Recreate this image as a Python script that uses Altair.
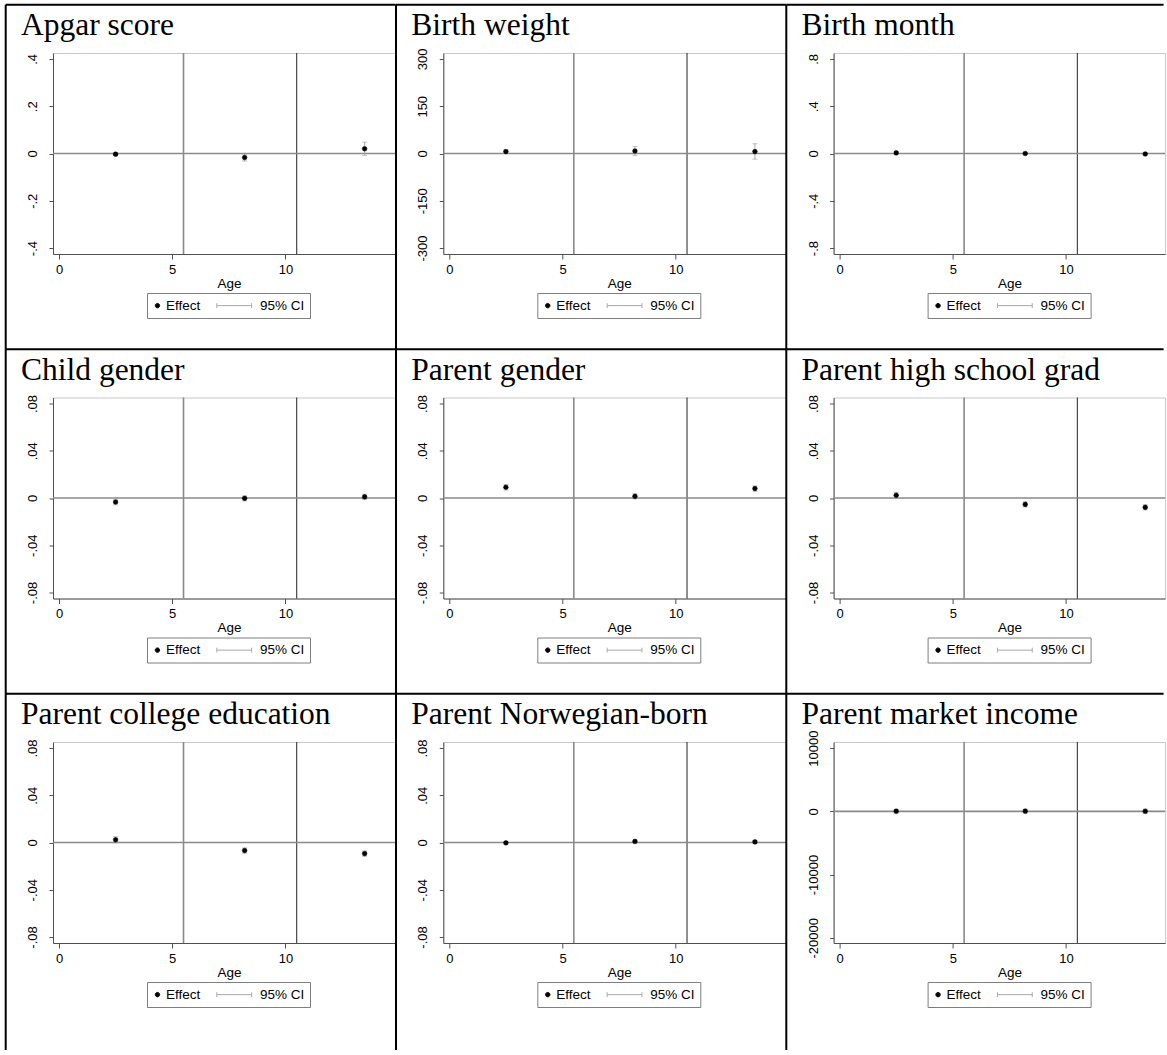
import altair as alt
import pandas as pd

# ---------------- data ----------------
ages = [2.5, 8.2, 13.5]
titles = ["Apgar score", "Birth weight", "Birth month",
          "Child gender", "Parent gender", "Parent high school grad",
          "Parent college education", "Parent Norwegian-born", "Parent market income"]
effects = [
    [-0.003, -0.017, 0.020],
    [6, 8, 6],
    [0.005, 0.0, -0.004],
    [-0.0034, -0.0003, 0.0010],
    [0.0091, 0.0014, 0.0080],
    [0.0023, -0.0054, -0.0079],
    [0.0023, -0.0068, -0.0094],
    [-0.0003, 0.0009, 0.0005],
    [30, 40, 20],
]
ci_low = [
    [-0.008, -0.032, -0.008],
    [1, -6, -18],
    [-0.006, -0.009, -0.013],
    [-0.0058, -0.0024, -0.0012],
    [0.0068, -0.0008, 0.0058],
    [-0.0002, -0.0076, -0.0101],
    [-0.0003, -0.0090, -0.0116],
    [-0.0013, -0.0001, -0.0005],
    [-250, -260, -330],
]
ci_high = [
    [0.002, -0.003, 0.048],
    [11, 22, 31],
    [0.016, 0.009, 0.005],
    [-0.0010, 0.0018, 0.0032],
    [0.0114, 0.0036, 0.0102],
    [0.0048, -0.0032, -0.0057],
    [0.0049, -0.0046, -0.0072],
    [0.0007, 0.0019, 0.0015],
    [310, 340, 370],
]
y_ticks = [
    [-0.4, -0.2, 0, 0.2, 0.4],
    [-300, -150, 0, 150, 300],
    [-0.8, -0.4, 0, 0.4, 0.8],
    [-0.08, -0.04, 0, 0.04, 0.08],
    [-0.08, -0.04, 0, 0.04, 0.08],
    [-0.08, -0.04, 0, 0.04, 0.08],
    [-0.08, -0.04, 0, 0.04, 0.08],
    [-0.08, -0.04, 0, 0.04, 0.08],
    [-20000, -10000, 0, 10000],
]
y_domains = [
    [-0.425, 0.425],
    [-319, 319],
    [-0.85, 0.85],
    [-0.0851, 0.0851],
    [-0.0851, 0.0851],
    [-0.0851, 0.0851],
    [-0.0851, 0.0851],
    [-0.0851, 0.0851],
    [-20823, 10981],
]
x_ticks = [0, 5, 10]
gray_vline = [5.5]
dark_vline = [10.5]
zero_line = [0]
series = ["Effect", "95% CI"]

# ---------------- layout constants ----------------
W = 342.7
W_LAST = 331.5
H = 201
PX_PER_AGE = 22.64
X_MIN = -0.265
ROW_PITCH = 344.5
CELL_DX = -47.3   # table cell left border relative to plot left
CELL_DY = -48.3   # table cell top border relative to plot top

SERIF = "Liberation Serif"
SANS = "Liberation Sans"

# legend symbol shapes (unit square scaled by symbol size)
dot_path = "M-1.0,0A0.55,0.55,0,1,1,0.1,0A0.55,0.55,0,1,1,-1.0,0Z"
ci_path = "M-9.1,0H-0.4M-9.1,-0.6V0.6M-0.4,-0.6V0.6"


def panel(i):
    col, row = i % 3, i // 3
    w = W_LAST if col == 2 else W
    xdom = [X_MIN, X_MIN + w / PX_PER_AGE]
    df = pd.DataFrame({
        "age": ages, "est": effects[i], "lo": ci_low[i], "hi": ci_high[i],
        "eff": ["Effect"] * 3, "ci": ["95% CI"] * 3,
    })
    xs = alt.Scale(domain=xdom, nice=False, zero=False)
    ys = alt.Scale(domain=y_domains[i], nice=False, zero=False)
    xax = alt.Axis(values=x_ticks, title="Age", titleX=176, titleY=33,
                   titleAlign="center", titleBaseline="alphabetic",
                   labelBaseline="alphabetic", labelPadding=14, tickSize=5,
                   labelFlush=False)
    yax = alt.Axis(values=y_ticks[i], title=None, labelAngle=270,
                   labelAlign="center", labelBaseline="alphabetic",
                   labelPadding=12.5, tickSize=4, labelFlush=False,
                   labelExpr="replace(toString(datum.value), '0.', '.')")
    leg = alt.Legend(orient="none", legendX=94, legendY=240, direction="horizontal",
                     title=None, strokeColor="#7f7f7f", fillColor="white",
                     padding=5.5, labelFont=SANS, labelFontSize=13.5,
                     labelColor="black", symbolSize=64, symbolStrokeWidth=1,
                     labelOffset=0, columnPadding=14)
    fill_sc = alt.Scale(domain=series, range=["#000000", "transparent"])
    stroke_sc = alt.Scale(domain=series, range=["#000000", "#a8a8a8"])
    shape_sc = alt.Scale(domain=series, range=[dot_path, ci_path])

    base = alt.Chart(df)
    x_enc = alt.X("age:Q", scale=xs, axis=xax)

    vl1 = alt.Chart(pd.DataFrame({"v": gray_vline})).mark_rule(
        color="#8a8a8a", strokeWidth=1.6).encode(x=alt.X("v:Q", scale=xs, axis=xax))
    vl2 = alt.Chart(pd.DataFrame({"v": dark_vline})).mark_rule(
        color="#222222", strokeWidth=1).encode(x=alt.X("v:Q", scale=xs, axis=xax))
    hl = alt.Chart(pd.DataFrame({"h": zero_line})).mark_rule(
        color="#8a8a8a", strokeWidth=1.6).encode(y=alt.Y("h:Q", scale=ys, axis=yax))

    ci = base.mark_rule(strokeWidth=1).encode(
        x=x_enc, y=alt.Y("lo:Q", scale=ys, axis=yax), y2="hi:Q",
        stroke=alt.Stroke("ci:N", scale=stroke_sc, legend=leg))
    cap_lo = base.mark_tick(orient="horizontal", size=5, thickness=1,
                            color="#a8a8a8").encode(x=x_enc, y=alt.Y("lo:Q", scale=ys, axis=yax))
    cap_hi = base.mark_tick(orient="horizontal", size=5, thickness=1,
                            color="#a8a8a8").encode(x=x_enc, y=alt.Y("hi:Q", scale=ys, axis=yax))
    pts = base.mark_circle(size=22, opacity=1, strokeWidth=0.5).encode(
        x=x_enc, y=alt.Y("est:Q", scale=ys, axis=yax),
        fill=alt.Fill("eff:N", scale=fill_sc, legend=leg),
        stroke=alt.Stroke("eff:N", scale=stroke_sc, legend=leg))
    dummy = alt.Chart(pd.DataFrame({"s": series, "xx": [None, None], "yy": [None, None]})).mark_point().encode(
        x=alt.X("xx:Q", scale=xs, axis=xax), y=alt.Y("yy:Q", scale=ys, axis=yax),
        shape=alt.Shape("s:N", scale=shape_sc, legend=leg))

    title_txt = alt.Chart(pd.DataFrame({"t": [titles[i]]})).mark_text(
        align="left", baseline="alphabetic", font=SERIF, fontSize=31.5, color="black"
    ).encode(x=alt.value(-32), y=alt.value(-18), text="t:N")

    bottom = ROW_PITCH + CELL_DY if row < 2 else 308
    one = pd.DataFrame({"k": [0]})
    vborder = alt.Chart(one).mark_rule(color="black", strokeWidth=2).encode(
        x=alt.value(CELL_DX), y=alt.value(CELL_DY), y2=alt.value(bottom))
    hborder = alt.Chart(one).mark_rule(color="black", strokeWidth=2).encode(
        x=alt.value(CELL_DX), x2=alt.value(330 if col == 2 else w),
        y=alt.value(CELL_DY))

    return alt.layer(vl1, vl2, hl, ci, cap_lo, cap_hi, dummy, pts,
                     title_txt, vborder, hborder).properties(width=w, height=H)


panels = [panel(i) for i in range(9)]

chart = alt.concat(
    *panels, columns=3, spacing={"row": ROW_PITCH - H, "column": 390 - W}, bounds="flush"
).resolve_scale(
    x="independent", y="independent", fill="independent",
    stroke="independent", shape="independent"
).properties(
    padding={"left": 4, "top": 3, "right": 0, "bottom": 0},
    background="white",
).configure_view(
    stroke="#c8c8c8", strokeWidth=1
).configure_axis(
    domainColor="#505050", tickColor="#505050", domainWidth=1, tickWidth=1,
    labelFont=SANS, labelFontSize=13, labelColor="black",
    titleFont=SANS, titleFontSize=13.5, titleFontWeight="normal", titleColor="black",
    grid=False,
)

chart.save("out.html", embed_options={"renderer": "svg", "actions": False})
